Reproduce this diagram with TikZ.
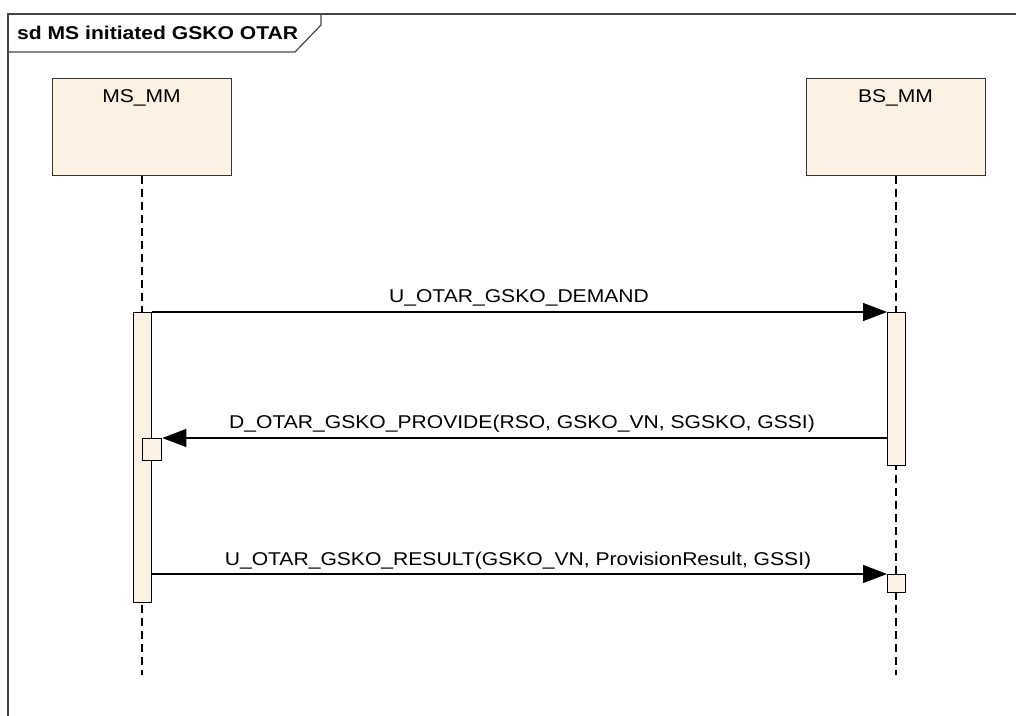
\documentclass[tikz,border=0pt]{standalone}
\usepackage{fontspec}
\setmainfont{Liberation Sans}[FakeStretch=1.14]
\usetikzlibrary{arrows.meta}
\definecolor{lifefill}{RGB}{252,241,226}
\definecolor{framegray}{RGB}{70,70,70}
\tikzset{
  lbl/.style={font=\fontsize{18.5}{22}\selectfont, anchor=base, inner sep=0pt},
  headbox/.style={draw=black!80, line width=1pt, fill=lifefill, anchor=north west, inner sep=0pt},
  actbar/.style={draw=black, line width=1.3pt, fill=lifefill, anchor=north west, inner sep=0pt},
  lifeline/.style={line width=1.5pt, dash pattern=on 8pt off 5pt},
  msg/.style={line width=1.4pt, -{Triangle[length=24pt,width=18pt]}},
}
\begin{document}
\begin{tikzpicture}[x=1pt,y=-1pt]
\useasboundingbox (0,0) rectangle (1016,715);
% frame
\draw[framegray, line width=1.5pt] (8,730) -- (8,14) -- (1030,14);
\draw[framegray, line width=1.2pt] (8,52) -- (295,52) -- (321,25) -- (321,14);
\node[font=\fontsize{18.5}{22}\selectfont\bfseries, anchor=base west, inner sep=0pt] (title) at (17,39) {sd MS initiated GSKO OTAR};
% lifeline heads
\node[headbox, minimum width=179pt, minimum height=97pt] (ms) at (52,78) {};
\node[headbox, minimum width=179pt, minimum height=97pt] (bs) at (806,78) {};
\node[lbl] (mslbl) at (141.5,102) {MS\_MM};
\node[lbl] (bslbl) at (895.5,102) {BS\_MM};
% lifelines
\coordinate (msend) at (142,675);
\coordinate (bsend) at (896,675);
\draw[lifeline] (ms.south) -- (msend);
\draw[lifeline] (bs.south) -- (bsend);
% activation bars
\node[actbar, minimum width=18pt, minimum height=290pt] (msact) at (133,312) {};
\node[actbar, minimum width=18pt, minimum height=153pt] (bsact) at (887,312) {};
\node[actbar, minimum width=19pt, minimum height=22pt] (prov) at (142,438) {};
\node[actbar, minimum width=18pt, minimum height=18pt] (res) at (887,574) {};
% messages
\draw[msg] (msact.north east) -- (bsact.north west);
\draw[msg] (bsact.west |- prov.north) -- (prov.north east);
\draw[msg] (msact.east |- res.north) -- (res.north west);
\node[lbl] (l1) at (519,302) {U\_OTAR\_GSKO\_DEMAND};
\node[lbl] (l2) at (522,428) {D\_OTAR\_GSKO\_PROVIDE(RSO, GSKO\_VN, SGSKO, GSSI)};
\node[lbl] (l3) at (518,565) {U\_OTAR\_GSKO\_RESULT(GSKO\_VN, ProvisionResult, GSSI)};
\end{tikzpicture}
\end{document}
